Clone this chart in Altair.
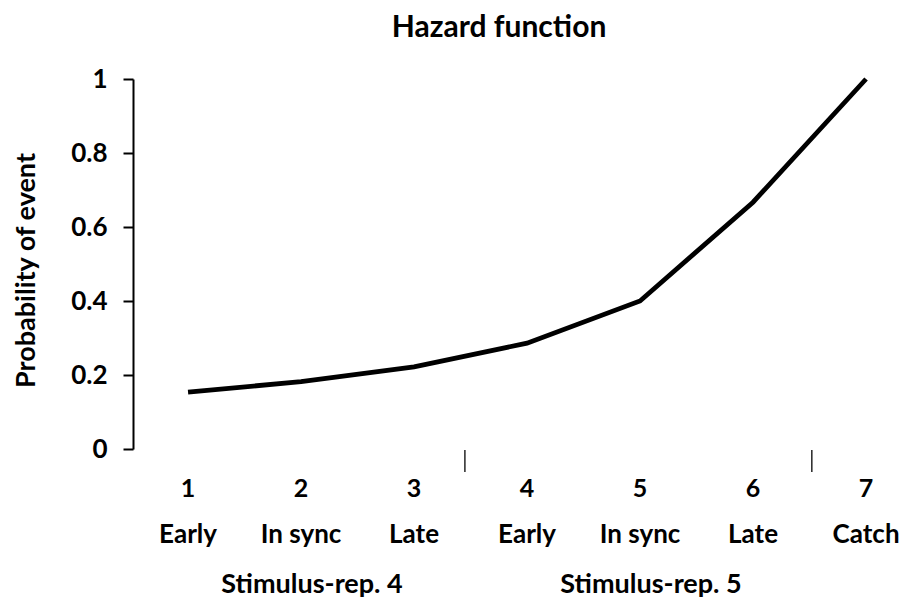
import altair as alt
import pandas as pd

# ---- data ----
title_text = "Hazard function"
positions = [1, 2, 3, 4, 5, 6, 7]
phases = ["Early", "In sync", "Late", "Early", "In sync", "Late", "Catch"]
probability = [0.154, 0.182, 0.222, 0.286, 0.4, 0.667, 1.0]
groups = ["Stimulus-rep. 4", "Stimulus-rep. 5"]
group_centers = [2, 5]
separators = [3.45, 6.52]
y_ticks = [0, 0.2, 0.4, 0.6, 0.8, 1]

FONT = "Lato"

df = pd.DataFrame({
    "pos": positions,
    "phase": phases,
    "prob": probability,
    "num": [str(p) for p in positions],
})
gdf = pd.DataFrame({"pos": group_centers, "label": groups})
sdf = pd.DataFrame({"pos": separators})
tdf = pd.DataFrame({"t": [title_text]})

xscale = alt.Scale(domain=[0.513, 7.327], nice=False, zero=False)

line = alt.Chart(df).mark_line(color="black", strokeWidth=4.8).encode(
    x=alt.X("pos:Q", scale=xscale,
            axis=alt.Axis(labels=False, ticks=False, grid=False, title=None,
                          domainColor="black", domainWidth=2)),
    y=alt.Y("prob:Q", scale=alt.Scale(domain=[0, 1], nice=False),
            axis=alt.Axis(values=y_ticks, format="~g", grid=False,
                          title="Probability of event",
                          titleFont=FONT, titleFontSize=27, titleFontWeight="bold",
                          titleColor="black", titleX=-107, titleY=191,
                          titleBaseline="middle",
                          labelFont=FONT, labelFontSize=26, labelFontWeight="bold",
                          labelColor="black", labelPadding=16,
                          tickSize=10, tickWidth=2, tickColor="black",
                          domainColor="black", domainWidth=2)),
)

numbers = alt.Chart(df).mark_text(
    font=FONT, fontSize=25, fontWeight="bold", color="black", baseline="alphabetic"
).encode(x=alt.X("pos:Q", scale=xscale, axis=None), y=alt.value(418), text="num:N")

sub = alt.Chart(df).mark_text(
    font=FONT, fontSize=26, fontWeight="bold", color="black", baseline="alphabetic"
).encode(x=alt.X("pos:Q", scale=xscale, axis=None), y=alt.value(464), text="phase:N")

grp = alt.Chart(gdf).mark_text(
    font=FONT, fontSize=27, fontWeight="bold", color="black", baseline="alphabetic", dx=11
).encode(x=alt.X("pos:Q", scale=xscale, axis=None), y=alt.value(514), text="label:N")

seps = alt.Chart(sdf).mark_rule(color="#333333", strokeWidth=1.6).encode(
    x=alt.X("pos:Q", scale=xscale, axis=None),
    y=alt.value(371), y2=alt.value(393),
)

title = alt.Chart(tdf).mark_text(
    font=FONT, fontSize=30, fontWeight="bold", color="black", baseline="alphabetic"
).encode(x=alt.value(366), y=alt.value(-42), text="t:N")

chart = alt.layer(line, seps, numbers, sub, grp, title).properties(
    width=770,
    height=370,
    autosize=alt.AutoSizeParams(type="none"),
    padding={"left": 125, "top": 71, "right": 0, "bottom": 150},
).configure_view(stroke=None)

chart.save("out.html", embed_options={"renderer": "svg", "actions": False})
